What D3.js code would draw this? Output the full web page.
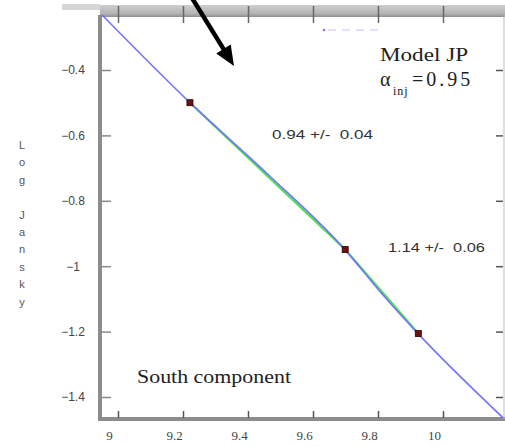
<!DOCTYPE html>
<html>
<head>
<meta charset="utf-8">
<script src="https://cdn.jsdelivr.net/npm/d3@7"></script>
<style>
  html, body { margin: 0; padding: 0; background: #fff; }
  svg { display: block; }
</style>
</head>
<body>
<svg id="chart" width="505" height="446"></svg>
<script>
// log10(frequency / Hz) of the three measurements
const freqLog = [9.2214, 9.699, 9.924];
// log10(flux density / Jy)
const fluxLog = [-0.50, -0.949, -1.206];

// JP model spectrum (alpha_inj = 0.95) sampled across the plotted band
const modelX = [8.951, 9.2214, 9.46, 9.699, 9.81, 9.924, 10.185];
const modelY = [-0.232, -0.50, -0.718, -0.95, -1.082, -1.207, -1.464];

// spectral indices between neighbouring frequencies
const indexLabels = ["0.94 +/-  0.04", "1.14 +/-  0.06"];

const xTicks = [9, 9.2, 9.4, 9.6, 9.8, 10];
const xTickLabels = ["9", "9.2", "9.4", "9.6", "9.8", "10"];
const yTicks = [-0.4, -0.6, -0.8, -1, -1.2, -1.4];
const yTickLabels = ["-0.4", "-0.6", "-0.8", "-1", "-1.2", "-1.4"];

const svg = d3.select("#chart");

// plot frame in pixels
const frame = { left: 100, right: 503, top: 15, bottom: 419 };

const x = d3.scaleLinear().domain([9, 10]).range([118, 443]);
const y = d3.scaleLinear().domain([-0.4, -1.4]).range([70, 397]);

const serif = "'Liberation Serif', 'DejaVu Serif', serif";
const sans = "'Liberation Sans', Arial, sans-serif";

// top band (upper frame edge)
const defs = svg.append("defs");
const grad = defs.append("linearGradient").attr("id", "band")
  .attr("x1", 0).attr("x2", 0).attr("y1", 0).attr("y2", 1);
grad.append("stop").attr("offset", "0%").attr("stop-color", "#cfcfcf");
grad.append("stop").attr("offset", "70%").attr("stop-color", "#b4b4b4");
grad.append("stop").attr("offset", "100%").attr("stop-color", "#8e8e8e");

svg.append("rect").attr("x", 62).attr("y", 4).attr("width", 38).attr("height", 6)
  .attr("fill", "#d6d6d6");
svg.append("rect").attr("x", frame.left).attr("y", 5)
  .attr("width", 505 - frame.left).attr("height", frame.top - 5 + 2)
  .attr("fill", "url(#band)");

// left and bottom frame lines
svg.append("line")
  .attr("x1", frame.left).attr("x2", frame.left)
  .attr("y1", frame.top).attr("y2", frame.bottom + 2)
  .attr("stroke", "#8c8c8c").attr("stroke-width", 4);
svg.append("line")
  .attr("x1", frame.left - 2).attr("x2", 505)
  .attr("y1", frame.bottom).attr("y2", frame.bottom)
  .attr("stroke", "#8c8c8c").attr("stroke-width", 4);
svg.append("line")
  .attr("x1", frame.right + 1).attr("x2", frame.right + 1)
  .attr("y1", frame.top).attr("y2", frame.bottom)
  .attr("stroke", "#bdbdbd").attr("stroke-width", 1);

// bottom axis
const xAxis = d3.axisBottom(x)
  .tickValues(xTicks)
  .tickFormat((d, i) => xTickLabels[i])
  .tickSize(-7)
  .tickPadding(13);
const gx = svg.append("g").attr("transform", `translate(0,${frame.bottom - 1})`).call(xAxis);
gx.select(".domain").remove();
gx.selectAll(".tick line").attr("stroke", "#555").attr("stroke-width", 1.5);
gx.selectAll(".tick text")
  .attr("dx", -9)
  .attr("fill", "#444")
  .style("font-family", serif)
  .style("font-size", "13px");

// top axis ticks
const xAxisTop = d3.axisTop(x).tickValues(xTicks).tickFormat("").tickSize(-8);
const gxt = svg.append("g").attr("transform", `translate(0,${frame.top})`).call(xAxisTop);
gxt.select(".domain").remove();
gxt.selectAll(".tick line").attr("stroke", "#666").attr("stroke-width", 1.5)
  .attr("y1", -9);

// left axis
const yAxis = d3.axisLeft(y)
  .tickValues(yTicks)
  .tickFormat((d, i) => yTickLabels[i].replace("-", "\u2212"))
  .tickSize(-10);
const gy = svg.append("g").attr("transform", `translate(${frame.left + 1},0)`).call(yAxis);
gy.select(".domain").remove();
gy.selectAll(".tick line").attr("stroke", "#888").attr("stroke-width", 1.5);
gy.selectAll(".tick text")
  .attr("x", 73 - frame.left - 1)
  .attr("text-anchor", "middle")
  .attr("fill", "#444")
  .style("font-family", sans)
  .style("font-size", "12px");

// right axis ticks
const yAxisRight = d3.axisRight(y).tickValues(yTicks).tickFormat("").tickSize(-7);
const gyr = svg.append("g").attr("transform", `translate(${frame.right},0)`).call(yAxisRight);
gyr.select(".domain").remove();
gyr.selectAll(".tick line").attr("stroke", "#555").attr("stroke-width", 1.5);

// y-axis title, letters stacked vertically
const yTitle = "Log Jansky";
const yTitleG = svg.append("g");
yTitle.split("").forEach((ch, i) => {
  if (ch === " ") return;
  yTitleG.append("text")
    .attr("x", 22).attr("y", 149 + i * 17.4)
    .attr("text-anchor", "middle")
    .attr("fill", "#555")
    .style("font-family", sans)
    .style("font-size", "11px")
    .text(ch);
});

// legend stroke sample (faint dashed)
svg.append("circle").attr("cx", 324).attr("cy", 30).attr("r", 1.3).attr("fill", "#7a7aff");
svg.append("line")
  .attr("x1", 328).attr("x2", 379).attr("y1", 30).attr("y2", 30)
  .attr("stroke", "#c4c4ff").attr("stroke-width", 1.2)
  .attr("stroke-dasharray", "8,6");

// fitted segments between measurements
const pts = freqLog.map((f, i) => [f, fluxLog[i]]);
svg.append("path")
  .datum(pts)
  .attr("fill", "none")
  .attr("stroke", "#4ee24e")
  .attr("stroke-width", 2.2)
  .attr("d", d3.line().x(d => x(d[0])).y(d => y(d[1])));

// model spectrum
const model = modelX.map((v, i) => [v, modelY[i]]);
svg.append("path")
  .datum(model)
  .attr("fill", "none")
  .attr("stroke", "#7474ff")
  .attr("stroke-width", 1.6)
  .attr("d", d3.line().curve(d3.curveMonotoneX).x(d => x(d[0])).y(d => y(d[1])));

// measured points
svg.selectAll("rect.pt")
  .data(pts)
  .enter().append("rect")
  .attr("class", "pt")
  .attr("x", d => x(d[0]) - 3).attr("y", d => y(d[1]) - 3)
  .attr("width", 6).attr("height", 6)
  .attr("fill", "#6e1010")
  .attr("stroke", "#2a0000").attr("stroke-width", 0.8);

// spectral index labels
const idxPos = [[272, 139], [388, 252]];
indexLabels.forEach((t, i) => {
  svg.append("text")
    .attr("x", idxPos[i][0]).attr("y", idxPos[i][1])
    .attr("fill", "#333")
    .attr("textLength", i === 0 ? 101 : 97)
    .attr("lengthAdjust", "spacingAndGlyphs")
    .style("font-family", sans)
    .style("font-size", "13px")
    .style("white-space", "pre")
    .text(t);
});

// model annotation
svg.append("text")
  .attr("x", 380).attr("y", 61)
  .attr("fill", "#222")
  .attr("textLength", 88)
  .attr("lengthAdjust", "spacingAndGlyphs")
  .style("font-family", serif)
  .style("font-size", "18px")
  .text("Model JP");

const alpha = svg.append("text")
  .attr("x", 380).attr("y", 86)
  .attr("fill", "#222")
  .style("font-family", serif)
  .style("font-size", "20px");
alpha.append("tspan").text("\u03b1");
alpha.append("tspan").attr("x", 393).attr("dy", 9).style("font-size", "12px")
  .style("letter-spacing", "1px").text("inj");
alpha.append("tspan").attr("x", 412).attr("dy", -9)
  .style("letter-spacing", "3px").text("=0.95");

svg.append("text")
  .attr("x", 137).attr("y", 383)
  .attr("fill", "#222")
  .attr("textLength", 154)
  .attr("lengthAdjust", "spacingAndGlyphs")
  .style("font-family", serif)
  .style("font-size", "18px")
  .text("South component");

// pointer arrow
const arrowFrom = [192, -2], arrowTip = [234, 66];
const dx = arrowTip[0] - arrowFrom[0], dy = arrowTip[1] - arrowFrom[1];
const len = Math.hypot(dx, dy);
const ux = dx / len, uy = dy / len;
const headLen = 20, headHalf = 8.5;
const base = [arrowTip[0] - ux * headLen, arrowTip[1] - uy * headLen];
svg.append("line")
  .attr("x1", arrowFrom[0]).attr("y1", arrowFrom[1])
  .attr("x2", base[0] + ux * 2).attr("y2", base[1] + uy * 2)
  .attr("stroke", "#000").attr("stroke-width", 4.5);
svg.append("path")
  .attr("d", d3.line()([
    arrowTip,
    [base[0] - uy * headHalf, base[1] + ux * headHalf],
    [base[0] + uy * headHalf, base[1] - ux * headHalf]
  ]) + "Z")
  .attr("fill", "#000");
</script>
</body>
</html>
